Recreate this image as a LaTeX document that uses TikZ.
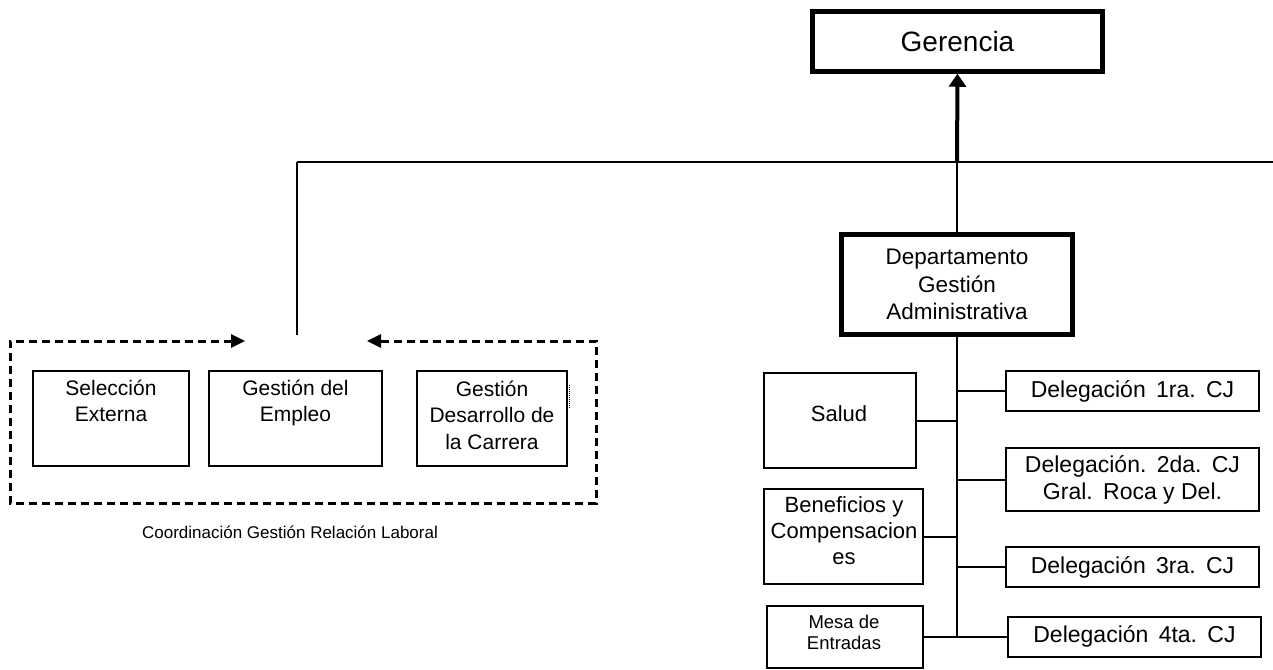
\documentclass[tikz,border=0pt]{standalone}
\usepackage{fontspec}
\setmainfont{Liberation Sans}
\usetikzlibrary{arrows.meta}
\newcommand\wsp{\hspace{0.45em}}
\begin{document}
\begin{tikzpicture}[x=1pt,y=-1pt,
  box/.style={draw, line width=2pt, rectangle, inner sep=0pt},
  bigbox/.style={draw, line width=4.5pt, rectangle, inner sep=0pt, align=center},
  lbl/.style={align=center, inner sep=0pt},
  conn/.style={line width=2pt},
  dashframe/.style={line width=3pt, dash pattern=on 8pt off 5pt},
  fA/.style={font=\fontsize{21}{26.5}\selectfont},
  fB/.style={font=\fontsize{22}{26}\selectfont},
  fD/.style={font=\fontsize{23}{27}\selectfont},
]
\useasboundingbox (0,0) rectangle (1273,669);

% top boxes
\node[bigbox, minimum width=290pt, minimum height=60pt, font=\fontsize{28}{32}\selectfont] (ger) at (957.5,41.5) {Gerencia};
\node[bigbox, minimum width=231pt, minimum height=100pt, font=\fontsize{22.5}{27.5}\selectfont] (dept) at (957,284.5) {Departamento\\Gestión\\Administrativa};

% main structure lines
\coordinate (jn) at (957,162);
\coordinate (hl) at (297,162);
\coordinate (hr) at (1273,162);
\coordinate (drop) at (297,335);
\draw[conn] (hl) -- (hr);
\draw[conn] (hl) -- (drop);
\draw[conn] (dept.north) -- (jn);
\draw[line width=4pt, -{Triangle[length=13pt,width=17pt]}] (jn) -- (ger.south);

% left group
\node[box, minimum width=156pt, minimum height=95pt] (sel) at (111,418.5) {};
\node[lbl, fA] (selt) at (111,401) {Selección\\Externa};
\node[box, minimum width=173pt, minimum height=95pt] (emp) at (295.5,418.5) {};
\node[lbl, fA] (empt) at (295.5,403) {Gestión del\\Empleo};
\node[box, minimum width=150pt, minimum height=95pt] (des) at (492,418.5) {};
\node[lbl, fA] (dest) at (492,415) {Gestión\\Desarrollo de\\la Carrera};
\draw[line width=0.8pt, dash pattern=on 1pt off 1pt] (569,385) -- (569,408);

\coordinate (fa) at (245,341);
\coordinate (f1) at (10,341);
\coordinate (f2) at (10,503);
\coordinate (f3) at (596,503);
\coordinate (f4) at (596,341);
\coordinate (fb) at (367,341);
\draw[dashframe, {Triangle[length=14pt,width=13pt]}-{Triangle[length=14pt,width=13pt]}]
  (fa) -- (f1) -- (f2) -- (f3) -- (f4) -- (fb);
\node[lbl, font=\fontsize{17}{20}\selectfont] (coord) at (290,532) {Coordinación Gestión Relación Laboral};

% right group
\coordinate (tb) at (957,636.5);
\draw[conn] (dept.south) -- (tb);

\node[box, minimum width=152pt, minimum height=95pt] (sal) at (840,420.5) {};
\node[lbl, fB] (salt) at (839,414) {Salud};
\node[box, minimum width=159pt, minimum height=95pt] (ben) at (843.5,536.5) {};
\node[lbl, fB] (bent) at (844,531) {Beneficios y\\Compensacion\\es};
\node[box, minimum width=156pt, minimum height=62pt] (mes) at (845,636.5) {};
\node[lbl, font=\fontsize{18.5}{21}\selectfont] (mest) at (844,632) {Mesa de\\Entradas};

\node[box, minimum width=253pt, minimum height=40pt, fD] (d1) at (1132.5,391) {Delegación\wsp 1ra.\wsp CJ};
\node[box, minimum width=253pt, minimum height=63pt, fD, align=center] (d2) at (1132.5,479.5) {Delegación.\wsp 2da.\wsp CJ\\Gral.\wsp Roca y Del.};
\node[box, minimum width=253pt, minimum height=40pt, fD] (d3) at (1132.5,567) {Delegación\wsp 3ra.\wsp CJ};
\node[box, minimum width=253pt, minimum height=40pt, fD] (d4) at (1134.5,636.5) {Delegación\wsp 4ta.\wsp CJ};

\draw[conn] (sal.east) -- (sal.east -| tb);
\draw[conn] (ben.east) -- (ben.east -| tb);
\draw[conn] (mes.east) -- (d4.west);
\draw[conn] (d1.west) -- (d1.west -| tb);
\draw[conn] (d2.west) -- (d2.west -| tb);
\draw[conn] (d3.west) -- (d3.west -| tb);
\end{tikzpicture}
\end{document}
